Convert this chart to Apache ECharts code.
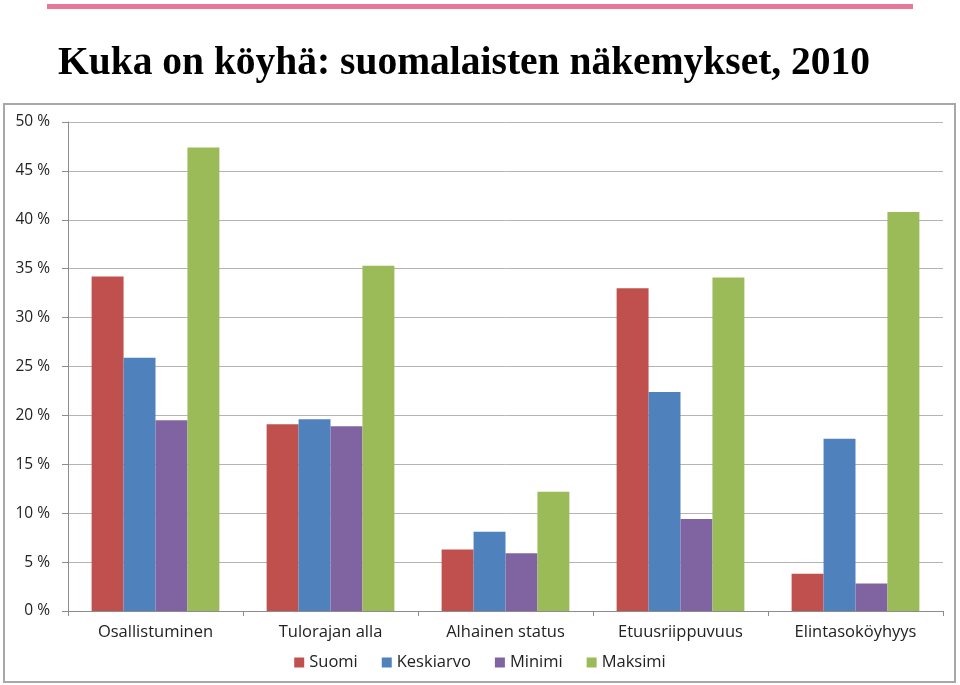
<!DOCTYPE html>
<html>
<head>
<meta charset="utf-8">
<script src="https://cdn.jsdelivr.net/npm/echarts@6/dist/echarts.min.js"></script>
<style>
html,body{margin:0;padding:0;background:#fff;}
#main{width:960px;height:685px;}
</style>
</head>
<body>
<div id="main"></div>
<script>
var categories = ['Osallistuminen', 'Tulorajan alla', 'Alhainen status', 'Etuusriippuvuus', 'Elintasoköyhyys'];
var suomi = [34.2, 19.1, 6.3, 33.0, 3.8];
var keskiarvo = [25.9, 19.6, 8.1, 22.4, 17.6];
var minimi = [19.5, 18.9, 5.9, 9.4, 2.8];
var maksimi = [47.4, 35.3, 12.2, 34.1, 40.8];
var seriesNames = ['Suomi', 'Keskiarvo', 'Minimi', 'Maksimi'];
var colors = ['#c0504d', '#4f81bd', '#8064a2', '#9bbb59'];
var titleText = 'Kuka on köyhä: suomalaisten näkemykset, 2010';

var chart = echarts.init(document.getElementById('main'), null, {renderer: 'canvas'});
var dataSets = [suomi, keskiarvo, minimi, maksimi];
var labelFont = '"Open Sans", "Liberation Sans", sans-serif';
var option = {
  backgroundColor: '#fff',
  animation: false,
  color: colors,
  title: {
    text: titleText,
    left: 53, top: 39,
    textStyle: {fontFamily: '"Liberation Serif", "DejaVu Serif", serif', fontWeight: 'bold', fontSize: 39.5, color: '#000'}
  },
  graphic: [
    {type: 'rect', shape: {x: 47, y: 4, width: 866, height: 5}, style: {fill: '#e8789a'}, silent: true},
    {type: 'rect', shape: {x: 4, y: 104, width: 951, height: 578}, style: {fill: 'none', stroke: '#a8a8a8', lineWidth: 2}, silent: true, z: -1}
  ],
  grid: {left: 68, right: 17, top: 122, bottom: 74, containLabel: false},
  legend: {
    bottom: 9, left: 'center',
    itemWidth: 10, itemHeight: 10, itemGap: 24,
    icon: 'rect',
    textStyle: {fontFamily: labelFont, fontSize: 16.5, color: '#222'},
    data: seriesNames
  },
  xAxis: {
    type: 'category',
    data: categories,
    axisLine: {lineStyle: {color: '#8c8c8c'}},
    axisTick: {show: true, length: 5, lineStyle: {color: '#8c8c8c'}},
    axisLabel: {fontFamily: labelFont, fontSize: 16.5, color: '#222', margin: 13}
  },
  yAxis: {
    type: 'value',
    min: 0, max: 50, interval: 5,
    axisLine: {show: true, lineStyle: {color: '#8c8c8c'}},
    axisTick: {show: true, length: 6, lineStyle: {color: '#8c8c8c'}},
    axisLabel: {formatter: '{value} %', fontFamily: labelFont, fontSize: 15.5, color: '#222', margin: 18},
    splitLine: {lineStyle: {color: '#b4b4b4'}}
  },
  series: seriesNames.map(function (n, i) {
    return {
      name: n, type: 'bar', data: dataSets[i],
      barGap: '0%', barCategoryGap: '27%',
      itemStyle: {color: colors[i]}
    };
  })
};
chart.setOption(option);
</script>
</body>
</html>
